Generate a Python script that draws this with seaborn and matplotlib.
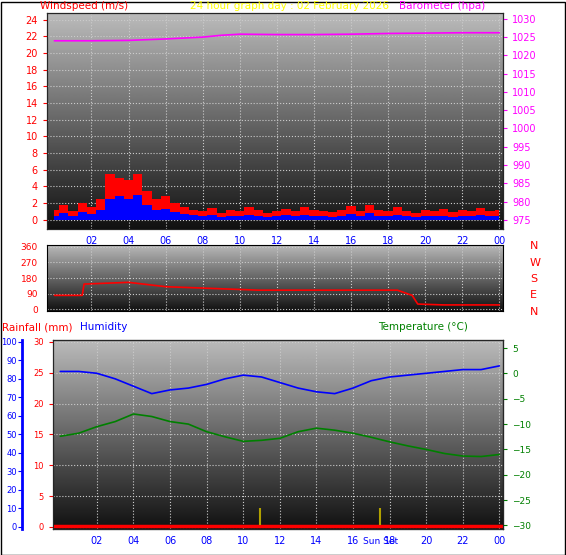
import numpy as np
import matplotlib
matplotlib.use("Agg")
import matplotlib.pyplot as plt
import seaborn as sns

sns.set_style("white")
plt.rcParams['font.family'] = ['DejaVu Sans']

hours = [i * 0.5 for i in range(49)]
wind_gust = [1.2, 1.8, 1.0, 2.0, 1.5, 2.5, 5.5, 5.0, 4.8, 5.5, 3.5, 2.5, 2.8, 2.0, 1.5, 1.2, 1.0, 1.4, 0.8, 1.2,
             1.0, 1.5, 1.2, 0.8, 1.0, 1.3, 1.0, 1.5, 1.2, 1.0, 0.9, 1.2, 1.6, 1.0, 1.8, 1.2, 1.0, 1.5, 1.0, 0.8,
             1.2, 1.0, 1.3, 0.9, 1.2, 1.0, 1.4, 1.0, 1.2]
wind_avg = [0.5, 0.8, 0.4, 0.9, 0.7, 1.2, 2.5, 2.8, 2.5, 3.0, 1.8, 1.2, 1.3, 0.9, 0.7, 0.6, 0.5, 0.6, 0.3, 0.5,
            0.4, 0.6, 0.5, 0.3, 0.4, 0.6, 0.4, 0.6, 0.5, 0.4, 0.3, 0.5, 0.7, 0.4, 0.8, 0.5, 0.4, 0.6, 0.4, 0.3,
            0.5, 0.4, 0.5, 0.3, 0.5, 0.4, 0.6, 0.4, 0.5]
baro_h = [0, 2, 4, 6, 8, 9, 10, 12, 14, 16, 18, 20, 22, 24]
baro = [1024.0, 1024.0, 1024.1, 1024.5, 1025.0, 1025.5, 1025.8, 1025.7, 1025.7, 1025.8, 1026.0, 1026.1, 1026.2, 1026.2]
dir_h = [0, 1.5, 1.6, 4, 6, 11, 18.5, 19.3, 19.6, 21, 24]
wind_dir = [80, 80, 145, 155, 130, 110, 110, 80, 30, 25, 25]
hum_h = [0, 1, 2, 3, 4, 5, 6, 7, 8, 9, 10, 11, 12, 13, 14, 15, 16, 17, 18, 19, 20, 21, 22, 23, 24]
humidity = [84, 84, 83, 80, 76, 72, 74, 75, 77, 80, 82, 81, 78, 75, 73, 72, 75, 79, 81, 82, 83, 84, 85, 85, 87]
temp = [-12.4, -11.8, -10.5, -9.5, -8.0, -8.5, -9.5, -10.0, -11.5, -12.5, -13.4, -13.2, -12.8, -11.5, -10.8, -11.2,
        -11.8, -12.6, -13.5, -14.3, -15.0, -15.8, -16.3, -16.4, -16.0]
sun_events = [10.9, 17.5]
sunset_label = "Sun Set"
xtick_labels = ["02", "04", "06", "08", "10", "12", "14", "16", "18", "20", "22", "00"]

W, H = 566, 555
fig = plt.figure(figsize=(W / 100, H / 100), dpi=100)
fig.patch.set_facecolor("white")
XL = (-0.4, 24.2)

def ax_px(x0, y0, x1, y1):
    return fig.add_axes([x0 / W, 1 - y1 / H, (x1 - x0) / W, (y1 - y0) / H])

def bg(ax, ylim):
    grad = np.linspace(0, 1, 256).reshape(-1, 1)
    ax.imshow(grad, extent=[XL[0], XL[1], ylim[0], ylim[1]], aspect="auto", cmap="gray",
              vmin=-0.1, vmax=1.4, origin="lower", zorder=0)
    ax.set_xlim(XL); ax.set_ylim(ylim)

def style_x(ax, labels=True):
    ax.set_xticks(range(2, 25, 2))
    ax.set_xticklabels(xtick_labels if labels else [], color="blue", fontsize=7)
    ax.grid(True, color="#cccccc", ls=":", lw=0.8, zorder=1)
    for s in ax.spines.values():
        s.set_color("black")
    ax.tick_params(axis="x", length=3, color="#888888", pad=2)

# Top panel
ax1 = ax_px(47, 13, 503, 229)
bg(ax1, (-1.1, 24.8))
style_x(ax1)
ax1.fill_between(hours, wind_gust, step="mid", color="red", lw=0, zorder=2)
ax1.fill_between(hours, wind_avg, step="mid", color="blue", lw=0, zorder=3)
ax1.set_yticks(range(0, 25, 2))
ax1.tick_params(axis="y", colors="red", labelsize=7, length=3)
ax1r = ax1.twinx()
ax1r.set_ylim(972.5, 1031.6)
sns.lineplot(x=baro_h, y=baro, ax=ax1r, color="magenta", lw=1.2)
ax1r.set_yticks(range(975, 1031, 5))
ax1r.tick_params(axis="y", colors="magenta", labelsize=7, length=3)
ax1r.set_xlim(XL)
fig.text(40 / W, 1 - 6 / H, "Windspeed (m/s)", color="red", fontsize=7.5, va="center")
fig.text(290 / W, 1 - 6 / H, "24 hour graph day : 02 February 2026", color="yellow", fontsize=7.5, va="center", ha="center")
fig.text(485 / W, 1 - 6 / H, "Barometer (hpa)", color="magenta", fontsize=7.5, va="center", ha="right")

# Middle panel
ax2 = ax_px(47, 245, 503, 311)
bg(ax2, (-10, 370))
style_x(ax2, labels=False)
sns.lineplot(x=dir_h, y=wind_dir, ax=ax2, color="red", lw=1.2)
ax2.set_yticks([0, 90, 180, 270, 360])
ax2.tick_params(axis="y", colors="red", labelsize=6.5, length=3)
ax2.set_xlim(XL)
for i, lab in enumerate(["N", "W", "S", "E", "N"]):
    fig.text(530 / W, 1 - (246 + i * 16.5) / H, lab, color="red", fontsize=8, va="center")

# Bottom panel
ax3 = ax_px(53, 340, 503, 529)
bg(ax3, (-0.35, 30.3))
style_x(ax3)
ax3.plot(XL, [0.15, 0.15], color="red", lw=2.5, zorder=4)
ax3.set_yticks(range(0, 31, 5))
ax3.tick_params(axis="y", colors="red", labelsize=6, length=3)
axh = ax3.twinx()
axh.set_ylim(-1.2, 101)
sns.lineplot(x=hum_h, y=humidity, ax=axh, color="blue", lw=1.2)
axh.yaxis.set_ticks_position("left"); axh.yaxis.set_label_position("left")
axh.spines["left"].set_position(("outward", 22)); axh.spines["left"].set_color("blue")
axh.spines["left"].set_linewidth(2)
axh.set_yticks(range(0, 101, 10))
axh.tick_params(axis="y", colors="blue", labelsize=6, length=3, pad=1)
axh.set_ylabel("")
axt = ax3.twinx()
axt.set_ylim(-30.7, 6.6)
sns.lineplot(x=hum_h, y=temp, ax=axt, color="green", lw=1.2)
axt.vlines(sun_events, -30, -26.5, color="#b0a000", lw=1.5)
axt.set_yticks(range(-30, 6, 5))
axt.tick_params(axis="y", colors="green", labelsize=6.5, length=3)
for a in (axh, axt):
    a.set_xlim(XL); a.set_xlabel("")
ax3.text(sun_events[1], -2.3, sunset_label, color="blue", fontsize=6.5, ha="center", va="center")
fig.text(2 / W, 1 - 327 / H, "Rainfall (mm)", color="red", fontsize=7.5, va="center")
fig.text(80 / W, 1 - 327 / H, "Humidity", color="blue", fontsize=7.5, va="center")
fig.text(378 / W, 1 - 327 / H, "Temperature (°C)", color="green", fontsize=7.5, va="center")

fig.add_artist(plt.Rectangle((0.5 / W, 0.5 / H), 1 - 2 / W, 1 - 2 / H, fill=False, color="black", lw=1,
                             transform=fig.transFigure))
fig.savefig("out.png", dpi=100, facecolor="white")
